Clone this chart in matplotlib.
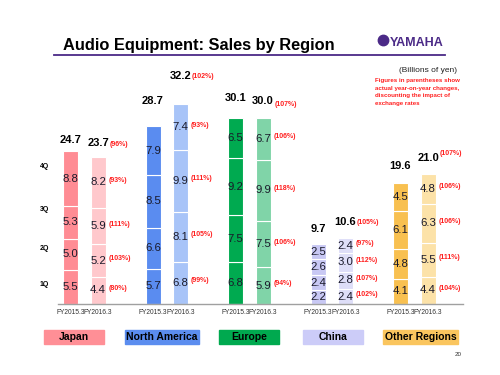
import matplotlib
matplotlib.use("Agg")
import matplotlib.pyplot as plt
from matplotlib.patches import Rectangle, Circle
import numpy as np

plt.rcParams['font.family'] = ['Liberation Sans', 'DejaVu Sans']

# ---------------- data ----------------
regions = ["Japan", "North America", "Europe", "China", "Other Regions"]
years = ["FY2015.3", "FY2016.3"]
quarters = ["1Q", "2Q", "3Q", "4Q"]

# quarterly sales (billions of yen), 1Q..4Q
japan_fy15 = [5.5, 5.0, 5.3, 8.8]
japan_fy16 = [4.4, 5.2, 5.9, 8.2]
na_fy15 = [5.7, 6.6, 8.5, 7.9]
na_fy16 = [6.8, 8.1, 9.9, 7.4]
europe_fy15 = [6.8, 7.5, 9.2, 6.5]
europe_fy16 = [5.9, 7.5, 9.9, 6.7]
china_fy15 = [2.2, 2.4, 2.6, 2.5]
china_fy16 = [2.4, 2.8, 3.0, 2.4]
other_fy15 = [4.1, 4.8, 6.1, 4.5]
other_fy16 = [4.4, 5.5, 6.3, 4.8]

totals_fy15 = [24.7, 28.7, 30.1, 9.7, 19.6]
totals_fy16 = [23.7, 32.2, 30.0, 10.6, 21.0]

# year-on-year % (FY2016.3), 1Q..4Q
japan_pct = ["80%", "103%", "111%", "93%"]
na_pct = ["99%", "105%", "111%", "93%"]
europe_pct = ["94%", "106%", "118%", "106%"]
china_pct = ["102%", "107%", "112%", "97%"]
other_pct = ["104%", "111%", "106%", "106%"]
total_pct = ["96%", "102%", "107%", "105%", "107%"]

# ---------------- styles ----------------
colors_fy15 = ["#FF8C94", "#5A8CF0", "#00AA50", "#C8C8F4", "#F8C050"]
colors_fy16 = ["#FFC8CC", "#A8C4F8", "#80D4A8", "#DEDEF8", "#FCE2A8"]
legend_colors = ["#FF8F96", "#5B8DEF", "#00A94F", "#CCCCF8", "#FAC55E"]
purple = "#4B2A87"
red = "#FF2020"
# label offsets above bar tops (pixels)
tot_off15 = [11, 25, 20, 15, 17]
tot_off16 = [14, 28, 17, 16, 16]
pct_dy16 = [-1, 0, -4, 0, 4]

fy15 = [japan_fy15, na_fy15, europe_fy15, china_fy15, other_fy15]
fy16 = [japan_fy16, na_fy16, europe_fy16, china_fy16, other_fy16]
pcts = [japan_pct, na_pct, europe_pct, china_pct, other_pct]

W, H = 500, 375
fig = plt.figure(figsize=(5, 3.75), dpi=100)
fig.patch.set_facecolor("white")

# overlay axes in pixel coordinates
ov = fig.add_axes([0, 0, 1, 1])
ov.set_xlim(0, W)
ov.set_ylim(H, 0)
ov.axis("off")

# bar axes: baseline at y=304 px, 6.2 px per unit; x unit 27.5 px, first bar center at 70.5 px
base_px, ppu = 304.0, 6.2
ymax = 40
x_unit, x0 = 27.5, 70.5
left_px, right_px = 58, 463
ax = fig.add_axes([left_px / W, (H - base_px) / H, (right_px - left_px) / W, ymax * ppu / H])
ax.set_xlim((left_px - x0) / x_unit, (right_px - x0) / x_unit)
ax.set_ylim(0, ymax)
ax.axis("off")
ax.plot([ax.get_xlim()[0], ax.get_xlim()[1]], [0, 0], color="#A0A0A0", lw=1.0, clip_on=False, zorder=5)

bw = 15 / x_unit
px = lambda p: p * 72 / 100  # pixels -> points

for gi in range(len(regions)):
    for yi, (vals, cols) in enumerate([(fy15[gi], colors_fy15), (fy16[gi], colors_fy16)]):
        xc = gi * 3 + yi
        bottom = 0
        for qi, v in enumerate(vals):
            ax.bar(xc, v, bw, bottom=bottom, color=cols[gi], edgecolor="white", linewidth=0.8, zorder=2)
            ax.text(xc, bottom + v / 2, f"{v:.1f}", ha="center", va="center", fontsize=8.2,
                    color="#1A1A2A", zorder=6)
            if yi == 1:
                ax.annotate(f"({pcts[gi][qi]})", (xc + bw / 2, bottom + v / 2),
                            xytext=(px(3), px(2)), textcoords="offset points",
                            ha="left", va="center", fontsize=5, fontweight="bold", color=red)
            bottom += v
        tot = totals_fy15[gi] if yi == 0 else totals_fy16[gi]
        off = tot_off15[gi] if yi == 0 else tot_off16[gi]
        ax.annotate(f"{tot:.1f}", (xc, bottom), xytext=(0, px(off)), textcoords="offset points",
                    ha="center", va="center", fontsize=8, fontweight="bold", color="black")
        if yi == 1:
            ax.annotate(f"({total_pct[gi]})", (xc, bottom), xytext=(px(11.5), px(off + pct_dy16[gi])),
                        textcoords="offset points", ha="left", va="center", fontsize=5,
                        fontweight="bold", color=red)
        ax.annotate(years[yi], (xc, 0), xytext=(0, -px(9)), textcoords="offset points",
                    ha="center", va="center", fontsize=4.8, color="#333333")

# quarter labels on the left
q_pos = [3.1, 8.9, 15.2, 22.1]
for q, y in zip(quarters, q_pos):
    ov.text(44, base_px - y * ppu, q, ha="center", va="center", fontsize=5, fontweight="bold")

# title and underline
ov.text(63, 50, "Audio Equipment: Sales by Region", ha="left", va="baseline", fontsize=11.8,
        fontweight="bold", color="black")
ov.plot([54, 445], [54.5, 54.5], color=purple, lw=1.3)

# logo
ov.add_patch(Circle((383.5, 40.5), 5.2, color=purple))
ov.text(390, 45.5, "YAMAHA", ha="left", va="baseline", fontsize=9, fontweight="bold", color=purple)

# units and note
ov.text(457, 71, "(Billions of yen)", ha="right", va="center", fontsize=6, color="#222222")
note = ["Figures in parentheses show", "actual year-on-year changes,",
        "discounting the impact of", "exchange rates"]
for i, line in enumerate(note):
    ov.text(375, 80.7 + i * 7.6, line, ha="left", va="center", fontsize=4.4, fontweight="bold", color=red)

# legend boxes
legend_x = [(44, 104), (125, 199), (219, 279), (303, 363), (383, 458)]
for (x1, x2), c, name in zip(legend_x, legend_colors, regions):
    ov.add_patch(Rectangle((x1, 330), x2 - x1, 14, color=c))
    ov.text((x1 + x2) / 2, 337.5, name, ha="center", va="center", fontsize=7.5, fontweight="bold")

ov.text(458, 355, "20", ha="center", va="center", fontsize=4.5, color="#333333")

fig.savefig("out.png", dpi=100)
